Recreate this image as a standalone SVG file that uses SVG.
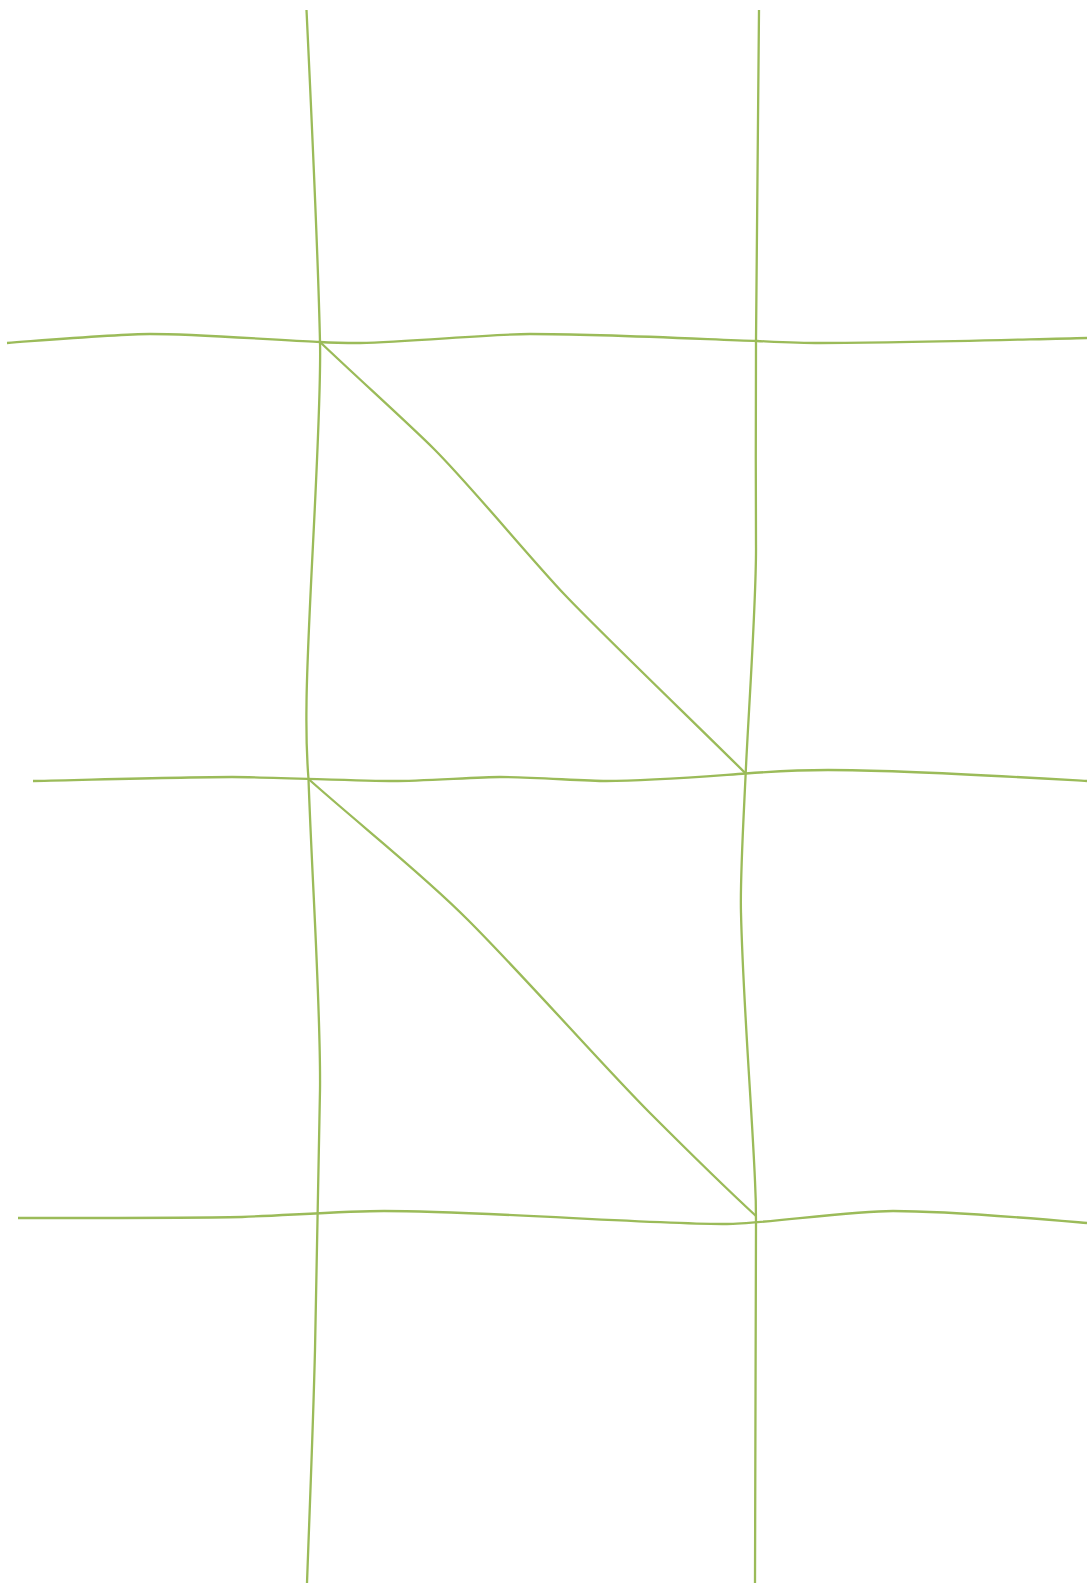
<svg xmlns="http://www.w3.org/2000/svg" width="1087" height="1583" viewBox="0 0 1087 1583">
<style>
.ln{fill:none;stroke:#9bbb59;stroke-width:2.3;stroke-linecap:butt;stroke-linejoin:round}
</style>
<rect width="1087" height="1583" fill="#ffffff"/>
<g id="connectors">
<path class="ln" d="M306.5,10 C312,125 318,250 320,342 C322,420 307,620 306.5,705 C306,740 307,760 308.5,779 C312,880 321,1010 320,1090 C319,1180 317,1270 315,1350 C313,1430 310,1500 307,1583"/>
<path class="ln" d="M759,10 L756,341 C756,400 755.5,480 756,545 C756.5,600 748,720 745.7,773 C743,830 740,880 741,913 C743,1000 752,1110 755,1181 C756,1200 756,1210 756,1222 L755,1583"/>
<path class="ln" d="M7,343 C60,339 120,334 150,334 C200,334 290,341 320,342 C335,343 350,343 360,343 C410,342 490,334 530,334 C600,334 700,339 757,341 C780,342 800,343 820,343 C900,343 1000,340 1087,338"/>
<path class="ln" d="M33,781 C120,779 190,777 232,777 C270,777 360,781 394,781 C420,781 480,777 500,777 C530,777 585,781 606,781 C650,781 710,776 745.7,773.5 C780,771 810,770 828,770 C900,770 1000,776 1087,781"/>
<path class="ln" d="M18,1218 C80,1218 200,1218 242,1217 C290,1215 350,1211 384,1211 C480,1211 650,1224 727,1224 C760,1224 850,1211 893,1211 C950,1211 1040,1219 1087,1223"/>
<path class="ln" d="M320,342 C360,380 410,425 434,449 C470,485 530,558 565,595 C600,632 700,728 745.7,773.5"/>
<path class="ln" d="M308.5,779 C360,825 425,876 468,920 C525,977 605,1068 650,1113 C692,1155 730,1192 756,1216"/>
</g>
</svg>
